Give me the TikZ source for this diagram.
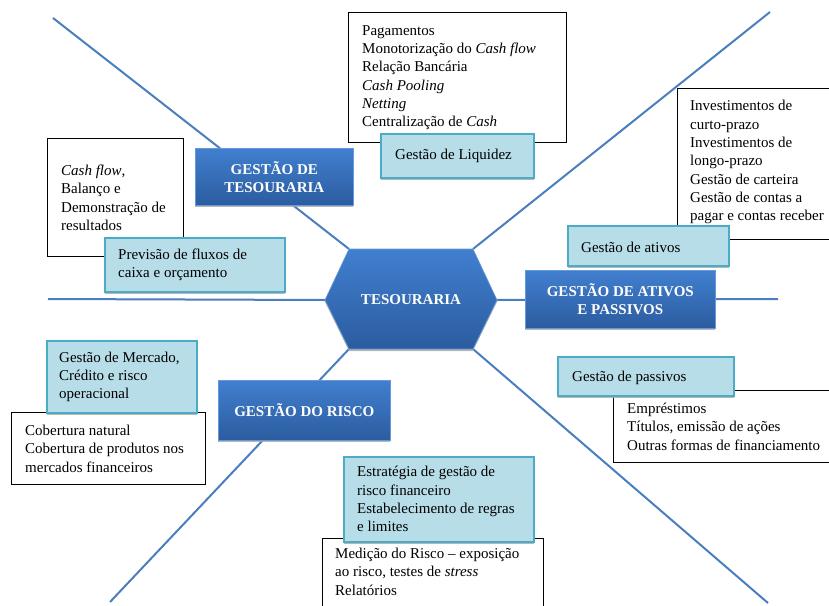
\documentclass[tikz,border=0pt]{standalone}
\usepackage{fontspec}
\setmainfont{Liberation Serif}
\usetikzlibrary{shadows}
\definecolor{linecol}{HTML}{4A7EBF}
\definecolor{lightfill}{HTML}{B7DDE8}
\definecolor{lightedge}{HTML}{4BACC6}
\definecolor{darktop}{HTML}{417FCF}
\definecolor{darkbot}{HTML}{2B5C9F}
\tikzset{
  conn/.style={draw=linecol, line width=2pt},
  wbox/.style={draw=black, line width=1.4pt, fill=white, anchor=north west, inner sep=0pt},
  lbox/.style={draw=lightedge, line width=1.6pt, fill=lightfill, anchor=north west, inner sep=0pt,
     drop shadow={shadow xshift=0pt, shadow yshift=-2pt, fill=gray!70, opacity=0.8}},
  dbox/.style={top color=darktop, bottom color=darkbot, draw=darktop!80!white, line width=0.6pt,
     anchor=north west, inner sep=0pt,
     drop shadow={shadow xshift=0pt, shadow yshift=-2pt, fill=gray!70, opacity=0.8}},
  txt/.style={align=left, inner sep=0pt, font=\fontsize{15}{18.3}\selectfont, text=black},
  dtxt/.style={align=center, inner sep=0pt, font=\fontsize{15}{18.3}\selectfont\bfseries, text=white},
}
\begin{document}
\begin{tikzpicture}[x=1pt,y=-1pt]
\useasboundingbox (0,0) rectangle (829,605);
% hexagon corners
\coordinate (hTL) at (349,249);
\coordinate (hTR) at (473,249);
\coordinate (hR) at (497,300);
\coordinate (hBR) at (473,349);
\coordinate (hBL) at (349,349);
\coordinate (hL) at (325,300);
% free ends
\coordinate (eUL) at (53,18);
\coordinate (eUR) at (770,12);
\coordinate (eL) at (48,299);
\coordinate (eR) at (778,299);
\coordinate (eLL) at (110,602);
\coordinate (eLR) at (768,603);
% connectors
\draw[conn] (eUL) -- (hTL);
\draw[conn] (eUR) -- (hTR);
\draw[conn] (eL) -- (hL);
\draw[conn] (hR) -- (eR);
\draw[conn] (hBL) -- (eLL);
\draw[conn] (hBR) -- (eLR);
% hexagon
\fill[gray!70, opacity=0.8] ([yshift=-2pt]hTL) -- ([yshift=-2pt]hTR) -- ([yshift=-2pt]hR) -- ([yshift=-2pt]hBR) -- ([yshift=-2pt]hBL) -- ([yshift=-2pt]hL) -- cycle;
\shade[top color=darktop, bottom color=darkbot, draw=darktop!80!white, line width=0.6pt]
  (hTL) -- (hTR) -- (hR) -- (hBR) -- (hBL) -- (hL) -- cycle;
\node[dtxt] (tes) at (411,300) {TESOURARIA};

% white boxes
\node[wbox, minimum width=218pt, minimum height=130pt] (pag) at (348,12) {};
\node[txt, anchor=west] (pagT) at ([xshift=14pt]pag.west) {Pagamentos\\Monotorização do \textit{Cash flow}\\Relação Bancária\\\textit{Cash Pooling}\\\textit{Netting}\\Centralização de \textit{Cash}};
\node[wbox, minimum width=136pt, minimum height=118pt] (cf) at (47,138) {};
\node[txt, anchor=west] (cfT) at ([xshift=14pt]cf.west) {\textit{Cash flow},\\Balanço e\\Demonstração de\\resultados};
\node[wbox, minimum width=170pt, minimum height=151pt] (inv) at (677,88) {};
\node[txt, anchor=west] (invT) at ([xshift=13pt,yshift=2pt]inv.west) {Investimentos de\\curto-prazo\\Investimentos de\\longo-prazo\\Gestão de carteira\\Gestão de contas a\\pagar e contas receber};
\node[wbox, minimum width=230pt, minimum height=72pt] (emp) at (613,390) {};
\node[txt, anchor=west] (empT) at ([xshift=14pt]emp.west) {Empréstimos\\Títulos, emissão de ações\\Outras formas de financiamento};
\node[wbox, minimum width=194pt, minimum height=72pt] (cob) at (11,412) {};
\node[txt, anchor=west] (cobT) at ([xshift=14pt]cob.west) {Cobertura natural\\Cobertura de produtos nos\\mercados financeiros};
\node[wbox, minimum width=221pt, minimum height=80pt] (med) at (322,538) {};
\node[txt, anchor=north west] (medT) at (335,548) {Medição do Risco -- exposição\\ao risco, testes de \textit{stress}\\Relatórios};

% light boxes
\node[lbox, minimum width=153pt, minimum height=44pt] (liq) at (380,133) {};
\node[txt, anchor=west] (liqT) at ([xshift=15pt]liq.west) {Gestão de Liquidez};
\node[lbox, minimum width=180pt, minimum height=54pt] (prev) at (104,237) {};
\node[txt, anchor=west] (prevT) at ([xshift=14pt]prev.west) {Previsão de fluxos de\\caixa e orçamento};
\node[lbox, minimum width=161pt, minimum height=40pt] (ati) at (567,225) {};
\node[txt, anchor=west] (atiT) at ([xshift=14pt,yshift=-2pt]ati.west) {Gestão de ativos};
\node[lbox, minimum width=176pt, minimum height=39pt] (pas) at (557,356) {};
\node[txt, anchor=west] (pasT) at ([xshift=15pt,yshift=-2pt]pas.west) {Gestão de passivos};
\node[lbox, minimum width=150pt, minimum height=72pt] (mer) at (46,340) {};
\node[txt, anchor=west] (merT) at ([xshift=13pt]mer.west) {Gestão de Mercado,\\Crédito e risco\\operacional};
\node[lbox, minimum width=190pt, minimum height=85pt] (est) at (343,456) {};
\node[txt, anchor=west] (estT) at ([xshift=14pt]est.west) {Estratégia de gestão de\\risco financeiro\\Estabelecimento de regras\\e limites};

% dark boxes
\node[dbox, minimum width=158pt, minimum height=57pt] (gt) at (195,148) {};
\node[dtxt] (gtT) at (gt.center) {GESTÃO DE\\TESOURARIA};
\node[dbox, minimum width=190pt, minimum height=58pt] (gap) at (525,270) {};
\node[dtxt] (gapT) at (gap.center) {GESTÃO DE ATIVOS\\E PASSIVOS};
\node[dbox, minimum width=172pt, minimum height=60pt] (gr) at (218,380) {};
\node[dtxt] (grT) at (gr.center) {GESTÃO DO RISCO};
\end{tikzpicture}
\end{document}
